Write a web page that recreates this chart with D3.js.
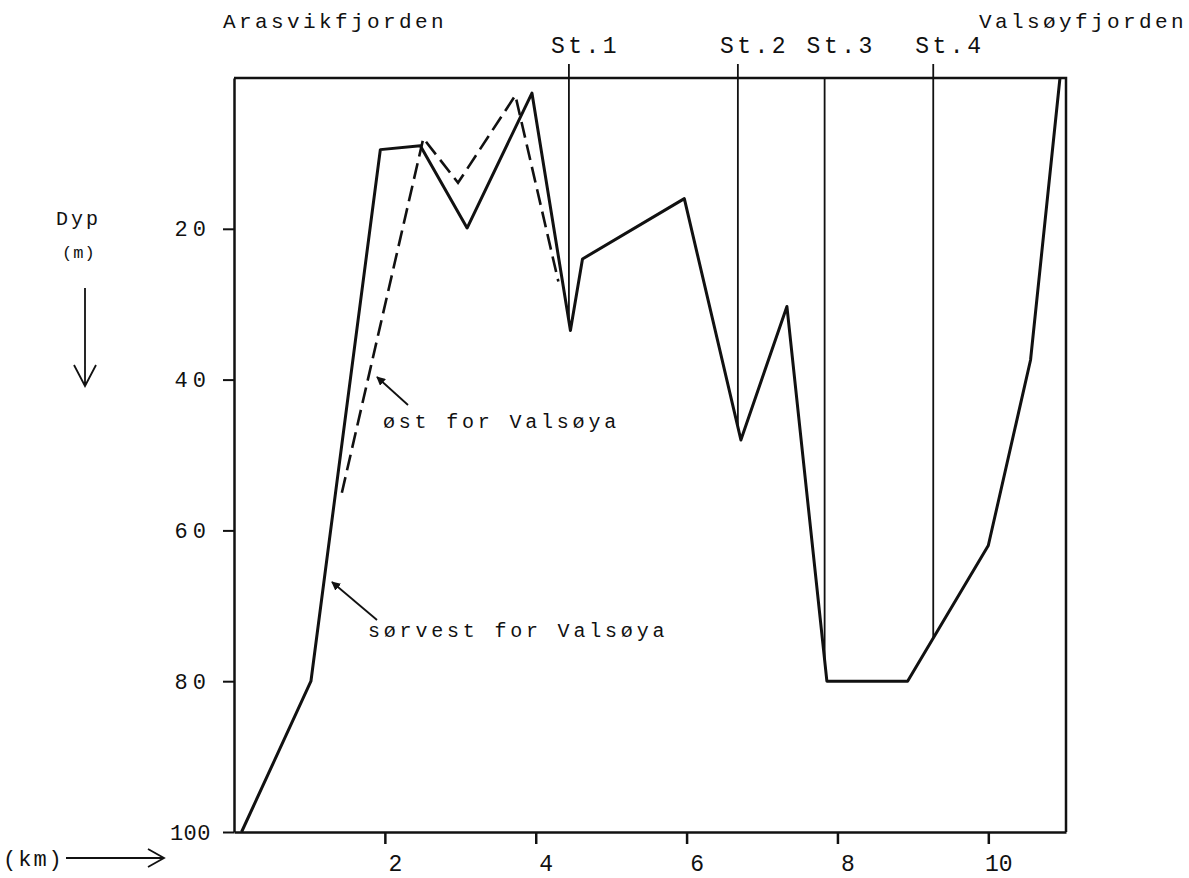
<!DOCTYPE html>
<html>
<head>
<meta charset="utf-8">
<script src="https://cdn.jsdelivr.net/npm/d3@7"></script>
<style>
  body { margin: 0; background: #fff }
  svg { display: block }
  text { font-family: 'Liberation Mono', 'DejaVu Sans Mono', monospace; fill: #111 }
</style>
</head>
<body>
<script>
// depth profile, km along the section / depth in m
var sorvestKm = [0.1, 1.02, 1.94, 2.47, 3.09, 3.95, 4.46, 4.62, 5.97, 6.72, 7.33, 7.86, 8.93, 10.0, 10.56, 10.95]
var sorvestDepth = [100, 80, 9.5, 9, 19.9, 2, 33.5, 24, 16, 48, 30.3, 80, 80, 62, 37.4, 0]
var ostKm = [1.43, 2.51, 2.97, 3.73, 4.3]
var ostDepth = [55, 8, 13.9, 2.3, 27]
var stations = ['St.1', 'St.2', 'St.3', 'St.4']
var stationKm = [4.44, 6.68, 7.83, 9.27]
var kmTicks = [2, 4, 6, 8, 10]
var depthTicks = [20, 40, 60, 80, 100]

var width = 1189,
  height = 878

var svg = d3
  .select('body')
  .append('svg')
  .attr('width', width)
  .attr('height', height)

var x = d3.scaleLinear().domain([0, 11.03]).range([234, 1066]),
  y = d3.scaleLinear().domain([0, 100]).range([78, 832])

var ink = '#111'

svg
  .append('defs')
  .append('marker')
  .attr('id', 'head')
  .attr('viewBox', '0 0 10 10')
  .attr('refX', 9)
  .attr('refY', 5)
  .attr('markerWidth', 9)
  .attr('markerHeight', 9)
  .attr('markerUnits', 'userSpaceOnUse')
  .attr('orient', 'auto')
  .append('path')
  .attr('d', 'M0,0L10,5L0,10z')
  .attr('fill', ink)

// frame: top and right
svg
  .append('path')
  .attr('d', 'M' + x(0) + ',' + y(0) + 'H' + x(11.03) + 'V' + y(100))
  .attr('fill', 'none')
  .attr('stroke', ink)
  .attr('stroke-width', 2.5)

// axes
var yAxis = svg
  .append('g')
  .attr('transform', 'translate(' + x(0) + ',0)')
  .call(
    d3
      .axisLeft(y)
      .tickValues(depthTicks)
      .tickSize(11)
      .tickSizeOuter(0)
      .tickPadding(12)
  )
yAxis.select('.domain').attr('stroke', ink).attr('stroke-width', 2.5)
yAxis.selectAll('.tick line').attr('stroke', ink).attr('stroke-width', 2)
yAxis
  .selectAll('.tick text')
  .attr('fill', ink)
  .style('font-size', '22px')
  .style('letter-spacing', d => (d < 100 ? '5px' : '0.5px'))
  .attr('font-family', null)

var xAxis = svg
  .append('g')
  .attr('transform', 'translate(0,' + y(100) + ')')
  .call(
    d3
      .axisBottom(x)
      .tickValues(kmTicks)
      .tickSize(12)
      .tickSizeOuter(0)
  )
xAxis.select('.domain').attr('stroke', ink).attr('stroke-width', 2.5)
xAxis.selectAll('.tick line').attr('stroke', ink).attr('stroke-width', 2.5)
xAxis
  .selectAll('.tick text')
  .attr('fill', ink)
  .attr('x', 10)
  .attr('y', 39)
  .attr('dy', 0)
  .style('font-size', '23px')
  .attr('font-family', null)

// the profiles
var line = d3
  .line()
  .x(d => x(d[0]))
  .y(d => y(d[1]))

var sorvest = sorvestKm.map((k, i) => [k, sorvestDepth[i]])
var ost = ostKm.map((k, i) => [k, ostDepth[i]])

// depth of the solid profile at a given km
function depthAt(k) {
  for (var i = 1; i < sorvest.length; i++) {
    var a = sorvest[i - 1],
      b = sorvest[i]
    if (k >= a[0] && k <= b[0]) return a[1] + ((k - a[0]) / (b[0] - a[0])) * (b[1] - a[1])
  }
  return 0
}

// station lines
var st = svg
  .append('g')
  .selectAll('g')
  .data(stations)
  .enter()
  .append('g')

st.append('line')
  .attr('x1', (d, i) => x(stationKm[i]))
  .attr('x2', (d, i) => x(stationKm[i]))
  .attr('y1', (d, i) => (i == 2 ? y(0) : y(0) - 14))
  .attr('y2', (d, i) => y(depthAt(stationKm[i])))
  .attr('stroke', ink)
  .attr('stroke-width', 1.8)

st.append('text')
  .attr('x', (d, i) => x(stationKm[i]) - 18)
  .attr('y', 53)
  .style('font-size', '23px')
  .style('letter-spacing', '3.5px')
  .text(d => d)

svg
  .append('path')
  .datum(ost)
  .attr('d', line)
  .attr('fill', 'none')
  .attr('stroke', ink)
  .attr('stroke-width', 2.6)
  .attr('stroke-dasharray', '16,7')

svg
  .append('path')
  .datum(sorvest)
  .attr('d', line)
  .attr('fill', 'none')
  .attr('stroke', ink)
  .attr('stroke-width', 3)
  .attr('stroke-linejoin', 'round')

// fjord names
svg
  .append('text')
  .attr('x', 223)
  .attr('y', 28)
  .style('font-size', '21px')
  .style('letter-spacing', '3.4px')
  .text('Arasvikfjorden')

svg
  .append('text')
  .attr('x', 979)
  .attr('y', 28)
  .style('font-size', '21px')
  .style('letter-spacing', '3.4px')
  .text('Valsøyfjorden')

// axis captions
svg
  .append('text')
  .attr('x', 56)
  .attr('y', 225)
  .style('font-size', '20px')
  .style('letter-spacing', '3px')
  .text('Dyp')

svg
  .append('text')
  .attr('x', 62)
  .attr('y', 258)
  .style('font-size', '17px')
  .style('letter-spacing', '1px')
  .text('(m)')

svg
  .append('path')
  .attr('d', 'M85,288V386M74,365L85,386L96,365')
  .attr('fill', 'none')
  .attr('stroke', ink)
  .attr('stroke-width', 1.8)

svg
  .append('text')
  .attr('x', 3)
  .attr('y', 866)
  .style('font-size', '22px')
  .style('letter-spacing', '2px')
  .text('(km)')

svg
  .append('path')
  .attr('d', 'M66,858H164M148,849L164,858L148,867')
  .attr('fill', 'none')
  .attr('stroke', ink)
  .attr('stroke-width', 1.8)

// labels for the two profiles
svg
  .append('text')
  .attr('x', 383)
  .attr('y', 428)
  .style('font-size', '20px')
  .style('letter-spacing', '3.8px')
  .text('øst for Valsøya')

svg
  .append('line')
  .attr('x1', 408)
  .attr('y1', 405)
  .attr('x2', 377)
  .attr('y2', 377)
  .attr('stroke', ink)
  .attr('stroke-width', 1.8)
  .attr('marker-end', 'url(#head)')

svg
  .append('text')
  .attr('x', 368)
  .attr('y', 637)
  .style('font-size', '20px')
  .style('letter-spacing', '3.8px')
  .text('sørvest for Valsøya')

svg
  .append('line')
  .attr('x1', 377)
  .attr('y1', 620)
  .attr('x2', 332)
  .attr('y2', 582)
  .attr('stroke', ink)
  .attr('stroke-width', 1.8)
  .attr('marker-end', 'url(#head)')
</script>
</body>
</html>
